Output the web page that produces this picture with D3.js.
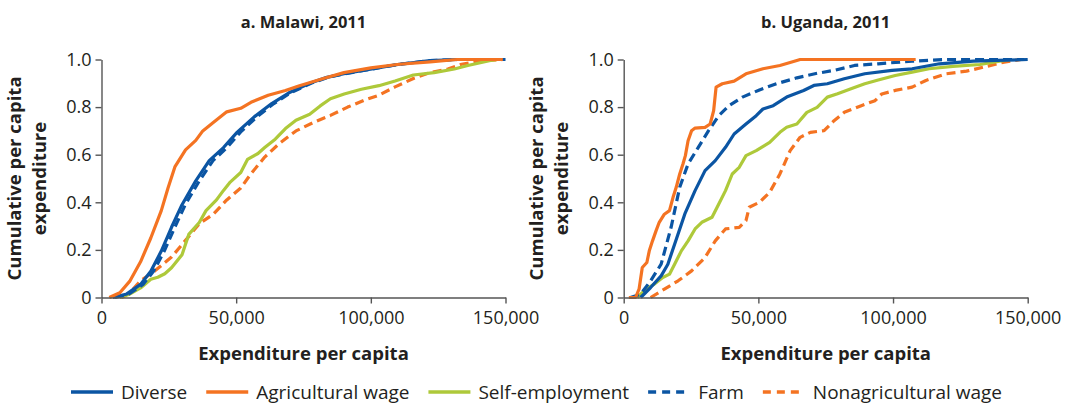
<!DOCTYPE html>
<html><head><meta charset="utf-8">
<script src="https://cdn.jsdelivr.net/npm/d3@7"></script>
<style>body{margin:0;background:#fff}svg{display:block}text{font-family:"Open Sans",sans-serif;fill:#231f20}</style>
</head><body><svg id="c" width="1071" height="405"></svg>
<script>
// Expenditure per capita in thousands, cumulative share
const malawiDiverse=[[4.2,0],[9.4,.015],[14.5,.055],[18.3,.11],[22.2,.195],[26,.295],[29.9,.39],[35,.49],[40,.575],[45.3,.63],[50.4,.695],[56.8,.76],[63.2,.815],[69.6,.86],[77.3,.9],[83.7,.925],[90,.94],[100.4,.96],[110.6,.98],[122,.995],[132,1],[149,1]];
const malawiAgWage=[[2.9,0],[6.8,.02],[10.6,.07],[14.5,.15],[18.3,.25],[22.2,.365],[24.7,.46],[27.3,.55],[31.2,.62],[35,.66],[37.6,.7],[41.5,.735],[46.5,.78],[51.7,.795],[55.5,.82],[61.9,.85],[68.3,.87],[73.5,.89],[82.4,.92],[90,.945],[100,.965],[110.6,.98],[122,.99],[132,1],[149,1]];
const malawiSelf=[[6.8,0],[10.6,.015],[14.5,.04],[18.3,.077],[20.9,.085],[23.5,.1],[26,.125],[29.9,.18],[32.4,.265],[36.3,.315],[38.8,.365],[42.7,.41],[45.3,.45],[47.8,.485],[51.7,.525],[54.2,.58],[58.1,.605],[60.6,.63],[64.5,.665],[68.3,.71],[72.2,.745],[77.3,.77],[81.2,.805],[85,.835],[90.1,.855],[96.5,.875],[103,.89],[109,.91],[115.8,.935],[123.5,.945],[131,.96],[136,.975],[144,.995],[147,1]];
const malawiFarm=[[5,0],[10.2,.015],[15.4,.055],[19.3,.11],[23.3,.195],[27.2,.295],[31.1,.39],[36.3,.49],[41.4,.575],[46.6,.63],[51.6,.695],[57.8,.76],[64,.815],[70.2,.86],[77.8,.9],[84,.925],[90.2,.94],[100.4,.96],[110.6,.98],[122,.995],[132,1],[150,1]];
const malawiNonAg=[[7.5,0],[10.5,.02],[14.5,.07],[19.6,.11],[26,.17],[31.2,.24],[36.3,.31],[41.5,.35],[46.5,.41],[51.7,.46],[55.5,.52],[60.6,.59],[65.8,.645],[72.2,.7],[78.6,.735],[85,.765],[91.4,.8],[97.8,.83],[103,.85],[109,.885],[115.8,.92],[122,.945],[128.6,.96],[133.7,.98],[141,.995],[149,1]];

const ugandaDiverse=[[6.3,0],[10,.042],[13.9,.091],[16.4,.14],[18.9,.224],[22.7,.351],[26.5,.449],[30.2,.533],[34,.575],[37.8,.631],[41,.687],[45.4,.729],[49.2,.764],[51.7,.792],[55.5,.806],[60.5,.842],[66.8,.87],[70.6,.891],[75.6,.898],[81.9,.919],[89.5,.94],[99.6,.954],[107.1,.961],[117.2,.982],[129.8,.993],[138.6,.996],[150,1]];
const ugandaAgWage=[[1.9,0],[4.4,0],[5.7,.035],[6.9,.126],[8.6,.147],[9.5,.196],[10.7,.238],[12,.28],[13.2,.316],[15.1,.35],[17,.365],[18.3,.42],[19.5,.463],[20.8,.519],[22,.561],[22.9,.596],[23.9,.659],[25.2,.701],[26.5,.712],[30.2,.715],[32.1,.729],[33.4,.785],[34.3,.884],[36.6,.898],[41,.909],[45.4,.94],[51.7,.961],[58,.975],[64.3,.996],[65.5,1],[108.4,1]];
const ugandaSelf=[[5,0],[7.6,.028],[11.3,.056],[14.5,.084],[17,.098],[18.9,.14],[21.4,.196],[23.9,.238],[26.5,.288],[29,.316],[32.8,.337],[35.3,.393],[37.8,.449],[40.3,.519],[42.9,.547],[45.4,.596],[49.2,.617],[54.2,.652],[58,.694],[60.5,.715],[64.3,.729],[68,.778],[71.8,.799],[75.6,.842],[79.4,.856],[84.4,.877],[89.5,.898],[94.5,.914],[100.8,.933],[107.1,.947],[113.4,.961],[122.2,.971],[132.3,.979],[137.3,.989],[143.7,1]];
const ugandaFarm=[[2.5,0],[6.3,.014],[10,.07],[13.9,.14],[17.6,.295],[20.8,.463],[23.9,.561],[27.7,.631],[31.5,.701],[35.3,.764],[39.1,.806],[44.1,.842],[50.4,.872],[56.7,.898],[64.3,.923],[71.8,.942],[78,.954],[85.7,.975],[94.5,.982],[107,.993],[119.7,1],[148.7,1]];
const ugandaNonAg=[[10,0],[15.1,.035],[20.2,.07],[25.2,.112],[30.2,.168],[34,.238],[37.8,.288],[42.9,.295],[45.4,.323],[46.6,.379],[50.4,.4],[54.2,.442],[58,.519],[61.8,.617],[65.5,.673],[69.3,.694],[74.4,.701],[78.1,.743],[81.9,.778],[88.2,.806],[93.3,.827],[95.8,.855],[100.8,.87],[107.1,.884],[112.2,.912],[119.7,.94],[127.3,.951],[133.6,.968],[141.2,.989],[147.5,1]];

const panelTitles=["a. Malawi, 2011","b. Uganda, 2011"];
const seriesNames=["Diverse","Agricultural wage","Self-employment","Farm","Nonagricultural wage"];
const xTicks=[0,50,100,150];
const yTicks=[0,0.2,0.4,0.6,0.8,1.0];

const colors={"Diverse":"#0b55a3","Agricultural wage":"#f47322","Self-employment":"#aec93a","Farm":"#0b55a3","Nonagricultural wage":"#f47322"};
const dashed={"Farm":"9,5","Nonagricultural wage":"9,5"};

const panels=[
  {title:panelTitles[0],x0:101.5,series:{"Diverse":malawiDiverse,"Agricultural wage":malawiAgWage,"Self-employment":malawiSelf,"Farm":malawiFarm,"Nonagricultural wage":malawiNonAg}},
  {title:panelTitles[1],x0:623.7,series:{"Diverse":ugandaDiverse,"Agricultural wage":ugandaAgWage,"Self-employment":ugandaSelf,"Farm":ugandaFarm,"Nonagricultural wage":ugandaNonAg}}
];
const drawOrder=["Nonagricultural wage","Self-employment","Farm","Diverse","Agricultural wage"];

const svg=d3.select("#c");
const W=404, yTop=59.5, yBot=297.5;
const y=d3.scaleLinear().domain([0,1]).range([yBot,yTop]);
const fmtX=d=>d3.format(",")(d*1000);
const fmtY=d=>d===0?"0":d3.format(".1f")(d);

panels.forEach(p=>{
  const x=d3.scaleLinear().domain([0,150]).range([p.x0,p.x0+W]);
  const g=svg.append("g");
  const cx=p.x0+W/2;
  g.append("text").attr("x",cx).attr("y",28).attr("text-anchor","middle")
    .style("font-weight","700").style("font-size","16.5px").text(p.title);
  const line=d3.line().x(d=>x(d[0])).y(d=>y(d[1]));
  drawOrder.forEach(n=>{
    g.append("path").datum(p.series[n]).attr("d",line).attr("fill","none")
      .attr("stroke",colors[n]).attr("stroke-width",3.2)
      .attr("stroke-dasharray",dashed[n]||null).attr("stroke-linejoin","round");
  });
  const xa=g.append("g").attr("transform",`translate(0,${yBot})`)
    .call(d3.axisBottom(x).tickValues(xTicks).tickFormat(fmtX).tickSize(6).tickSizeOuter(0).tickPadding(8));
  const ya=g.append("g").attr("transform",`translate(${p.x0},0)`)
    .call(d3.axisLeft(y).tickValues(yTicks).tickFormat(fmtY).tickSize(6).tickSizeOuter(0).tickPadding(4));
  [xa,ya].forEach(a=>{
    a.selectAll("path,line").attr("stroke","#555").attr("stroke-width",1.4);
    a.selectAll("text").style("font-size","18px").style("font-family","'Open Sans',sans-serif").attr("fill","#231f20");
  });
  g.append("text").attr("x",cx).attr("y",360).attr("text-anchor","middle")
    .style("font-weight","700").style("font-size","18.5px").text("Expenditure per capita");
  const yl=g.append("text").attr("transform",`translate(${p.x0-80},${(yTop+yBot)/2}) rotate(-90)`)
    .attr("text-anchor","middle").style("font-weight","700").style("font-size","18.5px");
  yl.append("tspan").attr("x",0).attr("dy","-1").text("Cumulative per capita");
  yl.append("tspan").attr("x",0).attr("dy","25").text("expenditure");
});

// legend
let lx=71;
const ly=392;
seriesNames.forEach(n=>{
  svg.append("line").attr("x1",lx).attr("x2",lx+42).attr("y1",ly).attr("y2",ly)
    .attr("stroke",colors[n]).attr("stroke-width",3.5).attr("stroke-dasharray",dashed[n]?"8,6":null);
  const t=svg.append("text").attr("x",lx+50).attr("y",ly+6.5).style("font-size","19px").text(n);
  lx=lx+50+t.node().getComputedTextLength()+19;
});
</script></body></html>
